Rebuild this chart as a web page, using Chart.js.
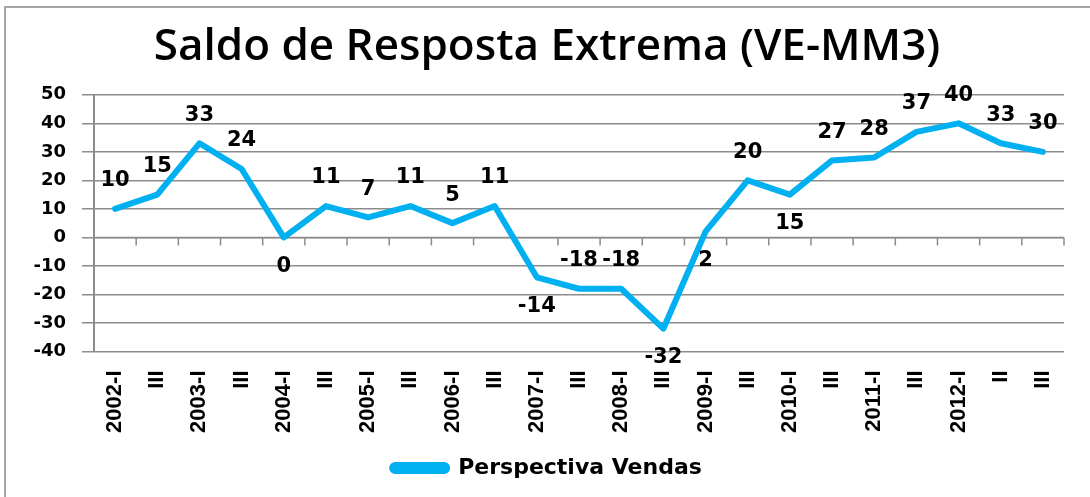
<!DOCTYPE html>
<html>
<head>
<meta charset="utf-8">
<script src="https://cdn.jsdelivr.net/npm/chart.js@4.4.0/dist/chart.umd.min.js"></script>
<style>
  html, body { margin: 0; padding: 0; background: #fff; }
  #wrap { position: relative; width: 1090px; height: 497px; overflow: hidden; }
  #frame { position: absolute; left: 4px; top: 6px; width: 1120px; height: 520px; border: 2px solid #a6a6a6; box-sizing: border-box; }
  #chart { position: absolute; left: 0; top: 0; }
</style>
</head>
<body>
<div id="wrap">
  <div id="frame"></div>
  <canvas id="chart" width="1090" height="497"></canvas>
</div>
<script>
const quarters = ["2002-I", "III", "2003-I", "III", "2004-I", "III", "2005-I", "III",
  "2006-I", "III", "2007-I", "III", "2008-I", "III", "2009-I", "III",
  "2010-I", "III", "2011-I", "III", "2012-I", "II", "III"];

const vendas = [10, 15, 33, 24, 0, 11, 7, 11, 5, 11, -14, -18, -18, -32,
  2, 20, 15, 27, 28, 37, 40, 33, 30];

// where each value label sits relative to its point
const labelSide = ["up", "up", "up", "up", "down", "up", "up", "up", "up", "up",
  "down", "up", "up", "down", "down", "up", "down", "up", "up", "up", "up", "up", "up"];

const yMin = -40;
const yMax = 50;
const yStep = 10;

const lineColor = "#00b0f0";
const gridColor = "#8c8c8c";

// Excel style category axis sitting at zero, with small tick marks
const zeroAxis = {
  id: "zeroAxis",
  beforeDatasetsDraw(chart) {
    const { ctx, scales: { x, y }, chartArea } = chart;
    const y0 = y.getPixelForValue(0);
    const half = (x.getPixelForValue(1) - x.getPixelForValue(0)) / 2;
    ctx.save();
    ctx.strokeStyle = gridColor;
    ctx.lineWidth = 1.5;
    ctx.beginPath();
    ctx.moveTo(chartArea.left, y0);
    ctx.lineTo(chartArea.right, y0);
    for (let i = 0; i <= quarters.length; i++) {
      const px = x.getPixelForValue(i) - half;
      ctx.moveTo(px, y0);
      ctx.lineTo(px, y0 + 8);
    }
    ctx.stroke();
    ctx.restore();
  },
};

const valueLabels = {
  id: "valueLabels",
  afterDatasetsDraw(chart) {
    const { ctx } = chart;
    const meta = chart.getDatasetMeta(0);
    ctx.save();
    ctx.font = "bold 21px 'DejaVu Sans'";
    ctx.fillStyle = "#000";
    ctx.textAlign = "center";
    ctx.textBaseline = "middle";
    meta.data.forEach((pt, i) => {
      const dy = labelSide[i] === "up" ? -28 : 29;
      ctx.fillText(String(vendas[i]), pt.x, pt.y + dy);
    });
    ctx.restore();
  },
};

new Chart(document.getElementById("chart"), {
  type: "line",
  data: {
    labels: quarters,
    datasets: [
      {
        label: "Perspectiva Vendas",
        data: vendas,
        borderColor: lineColor,
        backgroundColor: lineColor,
        borderWidth: 6,
        pointRadius: 0,
        tension: 0,
        borderJoinStyle: "round",
        borderCapStyle: "round",
      },
    ],
  },
  options: {
    responsive: false,
    animation: false,
    layout: {
      padding: { top: 0, left: 30, right: 26, bottom: 8 },
    },
    plugins: {
      title: {
        display: true,
        text: "Saldo de Resposta Extrema (VE-MM3)",
        color: "#000",
        font: { family: "'Open Sans'", size: 44, weight: "600" },
        padding: { top: 21, bottom: 21 },
      },
      legend: {
        position: "bottom",
        labels: {
          color: "#000",
          font: { family: "'DejaVu Sans'", size: 22, weight: "bold" },
          boxWidth: 55,
          boxHeight: 6,
          useBorderRadius: true,
          borderRadius: 3,
          padding: 10,
        },
      },
      tooltip: { enabled: false },
    },
    scales: {
      x: {
        offset: true,
        grid: { display: false, drawTicks: false },
        border: { display: false },
        ticks: {
          autoSkip: false,
          maxRotation: 90,
          minRotation: 90,
          padding: 19,
          color: "#000",
          font: { family: "'Liberation Sans'", size: 22, weight: "bold" },
        },
        afterFit(scale) {
          scale.height = 95.5;
        },
      },
      y: {
        min: yMin,
        max: yMax,
        ticks: {
          stepSize: yStep,
          padding: 16,
          color: "#000",
          font: { family: "'DejaVu Sans'", size: 18, weight: "bold" },
        },
        grid: { color: gridColor, lineWidth: 1.5, tickLength: 12 },
        border: { color: gridColor, width: 2 },
        afterFit(scale) {
          scale.width = 64;
        },
      },
    },
  },
  plugins: [zeroAxis, valueLabels],
});
</script>
</body>
</html>
